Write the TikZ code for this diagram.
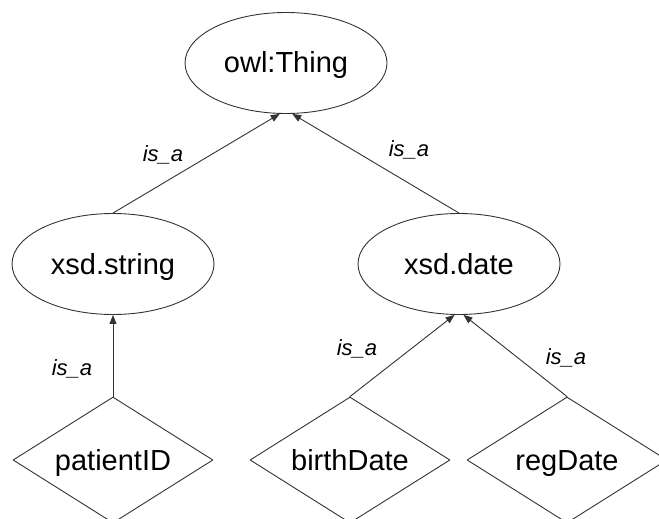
\documentclass[tikz,border=0pt]{standalone}
\usepackage{fontspec}
\setmainfont{Liberation Sans}
\usepackage{tikz}
\usetikzlibrary{arrows.meta}
\usetikzlibrary{shapes}

\begin{document}
\begin{tikzpicture}[x=1pt, y=-1pt, line join = round, line cap = round,
  cls/.style = {draw=black!80, line width = {0.9pt}, ellipse, inner sep=0pt, minimum width=202pt, minimum height=101pt, text height=22pt, text depth=2pt, font=\fontsize{29}{33}\selectfont},
  dtype/.style = {draw=black!80, line width = {0.9pt}, diamond, aspect=1.6, inner sep=0pt, minimum width=200pt, minimum height=126pt, text height=22pt, text depth=2pt, font=\fontsize{29}{33}\selectfont},
  isa/.style = {-{Triangle[length=9pt, width=7pt]}, color=black!80, line width = {0.9pt}},
  rel/.style = {font=\fontsize{22}{26}\selectfont\itshape}]

\useasboundingbox (0,0) rectangle (659,519);
\clip (0,0) rectangle (659,519);

% classes
\node[cls] (thing) at (286,63) {owl:Thing};
\node[cls] (str) at (113,264) {xsd.string};
\node[cls] (date) at (459,264) {xsd.date};

% datatype properties
\node[dtype] (pid) at (113,460) {patientID};
\node[dtype] (bdate) at (350,460) {birthDate};
\node[dtype] (rdate) at (567,460) {regDate};

% is_a edges
\draw[isa] (str.north) -- (thing.263); % string -> Thing
\draw[isa] (date.north) -- (thing.277); % date -> Thing
\draw[isa] (pid.north) -- (str.south); % patientID -> string
\draw[isa] (bdate.north) -- (date.265); % birthDate -> date
\draw[isa] (rdate.north) -- (date.275); % regDate -> date

% edge labels
\node[rel] (l1) at (163,155) {is\_a};
\node[rel] (l2) at (409,150) {is\_a};
\node[rel] (l3) at (72,369) {is\_a};
\node[rel] (l4) at (357,349) {is\_a};
\node[rel] (l5) at (566,358) {is\_a};

\end{tikzpicture}
\end{document}
